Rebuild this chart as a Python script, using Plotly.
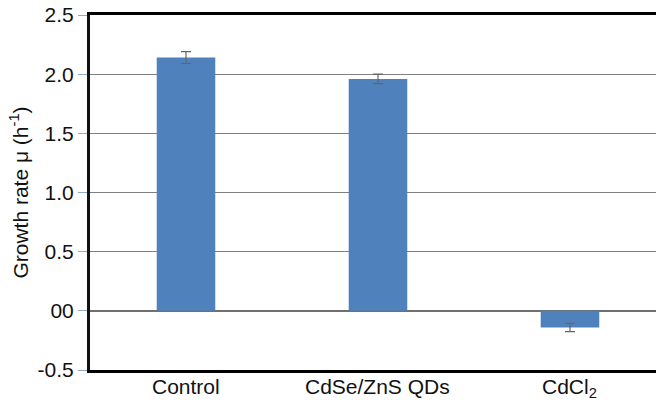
import plotly.graph_objects as go

categories = ["Control", "CdSe/ZnS QDs", "CdCl<sub>2</sub>"]
growth_rate = [2.14, 1.96, -0.14]
error = [0.05, 0.04, 0.035]
ytick_vals = [-0.5, 0, 0.5, 1.0, 1.5, 2.0, 2.5]
ytick_text = ["-0.5", "00", "0.5", "1.0", "1.5", "2.0", "2.5"]

xpos = list(range(len(categories)))

fig = go.Figure(go.Bar(
    x=xpos, y=growth_rate, width=0.305,
    marker=dict(color="#4f81bd", line=dict(width=0)),
    error_y=dict(type="data", array=error, visible=True, color="#666666", thickness=1.2, width=5),
))

for xi, label in zip(xpos, categories):
    fig.add_annotation(x=xi, xref="x", y=0, yref="paper", text=label,
                       showarrow=False, yanchor="top", yshift=-3,
                       font=dict(size=21, color="#111111"))

fig.update_layout(
    width=656, height=400,
    margin=dict(l=90, r=0, t=15, b=30),
    paper_bgcolor="white", plot_bgcolor="white",
    font=dict(family="Liberation Sans, Arial, sans-serif", size=21, color="#111111"),
    showlegend=False,
    xaxis=dict(
        range=[-0.5, 2.448], tickvals=xpos, showticklabels=False,
        showline=True, linecolor="black", linewidth=3, mirror=True,
        showgrid=False, zeroline=False, ticks="", automargin=False,
    ),
    yaxis=dict(
        range=[-0.5, 2.5], tickvals=ytick_vals, ticktext=ytick_text,
        showline=True, linecolor="#111111", linewidth=3, mirror=False,
        showgrid=True, gridcolor="#808080", gridwidth=1,
        zeroline=True, zerolinecolor="#707070", zerolinewidth=1.5,
        ticks="outside", ticklen=9, tickcolor="#8fa9c8", tickwidth=1,
        tickfont=dict(size=21), ticklabeloverflow="allow", automargin=False,
        title=dict(text="Growth rate μ (h<sup>-1</sup>)", font=dict(size=21), standoff=4),
    ),
)

fig.write_html("out.html", config={"displayModeBar": False},
               post_script="document.body.style.margin='0';")
